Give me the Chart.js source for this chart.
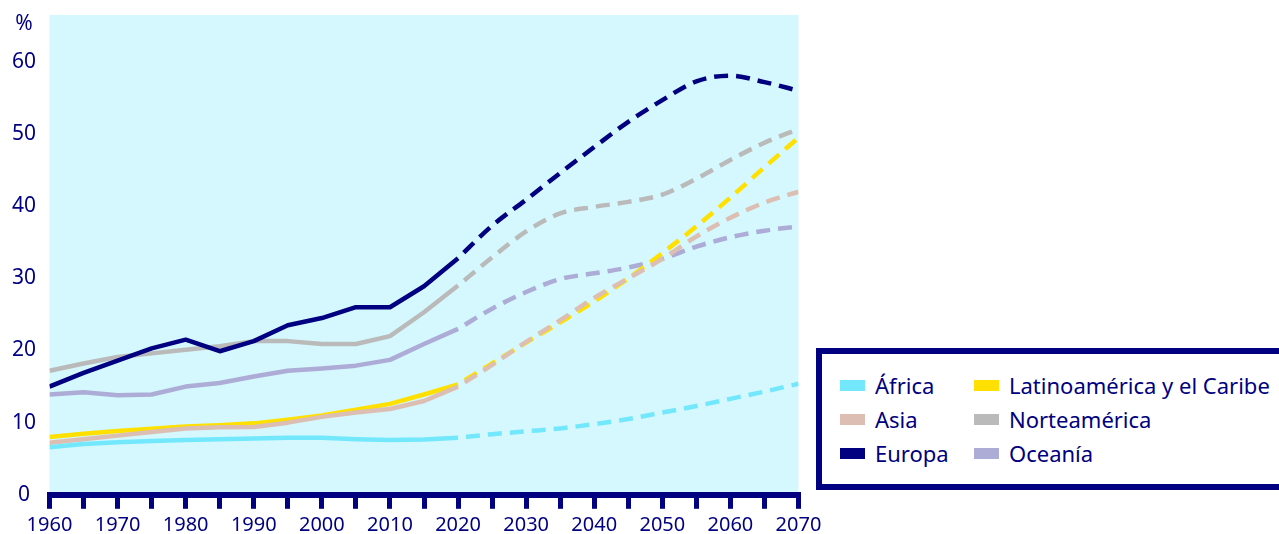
<!DOCTYPE html>
<html>
<head>
<meta charset="utf-8">
<script src="https://cdn.jsdelivr.net/npm/chart.js@4.4.1/dist/chart.umd.min.js"></script>
<style>
  html, body { margin: 0; padding: 0; background: #ffffff; overflow: hidden; }
  #wrap { position: relative; width: 1279px; height: 534px; }
  #chart { position: absolute; left: 0; top: 0; }
  #legend {
    position: absolute; left: 816px; top: 348px; width: 480px; height: 130px;
    border: 6px solid #000080; background: #ffffff;
    font-family: "Noto Sans", sans-serif; font-size: 22px; color: #000080;
  }
  .item { position: absolute; display: flex; align-items: center; height: 30px; white-space: nowrap; }
  .sw { width: 25px; height: 11px; margin-right: 10px; }
</style>
</head>
<body>
<div id="wrap">
  <canvas id="chart" width="1279" height="534"></canvas>
  <div id="legend"></div>
</div>
<script>
// ---- data ----
const histYears = [1960, 1965, 1970, 1975, 1980, 1985, 1990, 1995, 2000, 2005, 2010, 2015, 2020];
const projYears = [2020, 2025, 2030, 2035, 2040, 2045, 2050, 2055, 2060, 2065, 2070];

const regions = ["África", "Asia", "Europa", "Latinoamérica y el Caribe", "Norteamérica", "Oceanía"];

const africaHist = [6.6, 7.05, 7.3, 7.45, 7.6, 7.7, 7.8, 7.9, 7.9, 7.7, 7.6, 7.65, 7.9];
const africaProj = [7.9, 8.4, 8.8, 9.2, 9.8, 10.5, 11.4, 12.3, 13.3, 14.3, 15.4];

const asiaHist = [7.2, 7.7, 8.2, 8.7, 9.2, 9.35, 9.4, 10.0, 10.8, 11.4, 11.9, 13.0, 15.0];
const asiaProj = [15.0, 18.0, 21.2, 24.2, 27.3, 30.0, 32.7, 35.8, 38.4, 40.5, 42.0];

const europaHist = [15.0, 16.9, 18.6, 20.3, 21.5, 19.9, 21.3, 23.5, 24.5, 26.0, 26.0, 28.9, 32.8];
const europaProj = [32.8, 37.3, 40.9, 44.6, 48.2, 51.7, 54.7, 57.3, 58.1, 57.2, 56.0];

const latamHist = [8.0, 8.45, 8.85, 9.15, 9.45, 9.65, 9.9, 10.4, 11.0, 11.8, 12.6, 13.9, 15.3];
const latamProj = [15.3, 18.2, 21.1, 23.9, 26.8, 30.0, 33.5, 37.2, 41.2, 45.4, 49.5];

const norteHist = [17.2, 18.2, 19.1, 19.6, 20.1, 20.6, 21.3, 21.3, 20.9, 20.9, 22.0, 25.3, 29.0];
const norteProj = [29.0, 32.9, 36.5, 39.0, 39.9, 40.6, 41.6, 43.8, 46.4, 48.8, 50.7];

const oceaniaHist = [13.9, 14.2, 13.8, 13.9, 15.0, 15.5, 16.4, 17.2, 17.5, 17.9, 18.7, 20.9, 23.0];
const oceaniaProj = [23.0, 25.8, 28.1, 29.9, 30.7, 31.5, 32.7, 34.4, 35.7, 36.6, 37.2];

const yTicks = [0, 10, 20, 30, 40, 50, 60];

// ---- styles ----
const NAVY = "#000080";
const colors = ["#73e8fd", "#dcbfb2", "#000080", "#ffe000", "#bababa", "#acacd6"];
const histSeries = [africaHist, asiaHist, europaHist, latamHist, norteHist, oceaniaHist];
const projSeries = [africaProj, asiaProj, europaProj, latamProj, norteProj, oceaniaProj];

const toPts = (years, vals) => years.map((y, i) => ({ x: y, y: vals[i] }));

const datasets = [];
regions.forEach((name, i) => {
  datasets.push({
    label: name,
    data: toPts(histYears, histSeries[i]),
    borderColor: colors[i],
    borderWidth: 4.5,
    pointRadius: 0,
    tension: 0,
    borderJoinStyle: "round",
    fill: false
  });
  datasets.push({
    label: name + " (proyección)",
    data: toPts(projYears, projSeries[i]),
    borderColor: colors[i],
    borderWidth: 4.5,
    borderDash: [14, 8],
    borderDashOffset: 14,
    pointRadius: 0,
    cubicInterpolationMode: "monotone",
    fill: false
  });
});

const bgPlugin = {
  id: "bg",
  beforeDraw(chart) {
    const { ctx, chartArea: a } = chart;
    ctx.save();
    ctx.fillStyle = "#d4f8fd";
    ctx.fillRect(a.left, a.top, a.right - a.left, a.bottom - a.top);
    ctx.restore();
  },
  afterDraw(chart) {
    const { ctx, chartArea: a } = chart;
    const ys = chart.scales.y;
    ctx.save();
    ctx.fillStyle = NAVY;
    ctx.font = "21px 'Noto Sans'";
    ctx.textAlign = "center";
    ctx.textBaseline = "middle";
    ctx.fillText("%", ys.left + 24, a.top + 9.5);
    ctx.restore();
  }
};

const FAM = "'Noto Sans', sans-serif";

new Chart(document.getElementById("chart"), {
  type: "line",
  data: { datasets },
  plugins: [bgPlugin],
  options: {
    responsive: false,
    devicePixelRatio: 1,
    animation: false,
    layout: { padding: { top: 15, right: 480.5, bottom: 0, left: 0 } },
    plugins: { legend: { display: false }, tooltip: { enabled: false } },
    scales: {
      x: {
        type: "linear",
        min: 1960,
        max: 2070,
        afterFit(s) { s.height = 39.2; s.paddingLeft = 0; s.paddingRight = 0; },
        border: { display: true, color: NAVY, width: 6 },
        grid: {
          display: true, drawOnChartArea: false, drawTicks: true,
          tickLength: 14, tickWidth: 5, tickColor: NAVY, color: NAVY, lineWidth: 5
        },
        ticks: {
          stepSize: 5, autoSkip: false, maxRotation: 0, padding: 4,
          color: NAVY, font: { family: FAM, size: 20 },
          callback: v => (v % 10 === 0 ? String(v) : "")
        }
      },
      y: {
        min: 0,
        max: 66.5,
        afterFit(s) { s.width = 49.5; s.paddingTop = 0; s.paddingBottom = 0; },
        afterBuildTicks(s) { s.ticks = yTicks.map(v => ({ value: v })); },
        border: { display: false },
        grid: { display: false, drawTicks: false },
        ticks: {
          crossAlign: "center", padding: 13.5, includeBounds: false,
          color: NAVY, font: { family: FAM, size: 21 }
        }
      }
    }
  }
});

// ---- legend (HTML) ----
const legend = document.getElementById("legend");
const pos = [
  [18, 16], [18, 50], [18, 84],
  [152, 16], [152, 50], [152, 84]
];
regions.forEach((name, i) => {
  const d = document.createElement("div");
  d.className = "item";
  d.style.left = pos[i][0] + "px";
  d.style.top = pos[i][1] + "px";
  d.innerHTML = '<span class="sw" style="background:' + colors[i] + '"></span><span>' + name + "</span>";
  legend.appendChild(d);
});
</script>
</body>
</html>
